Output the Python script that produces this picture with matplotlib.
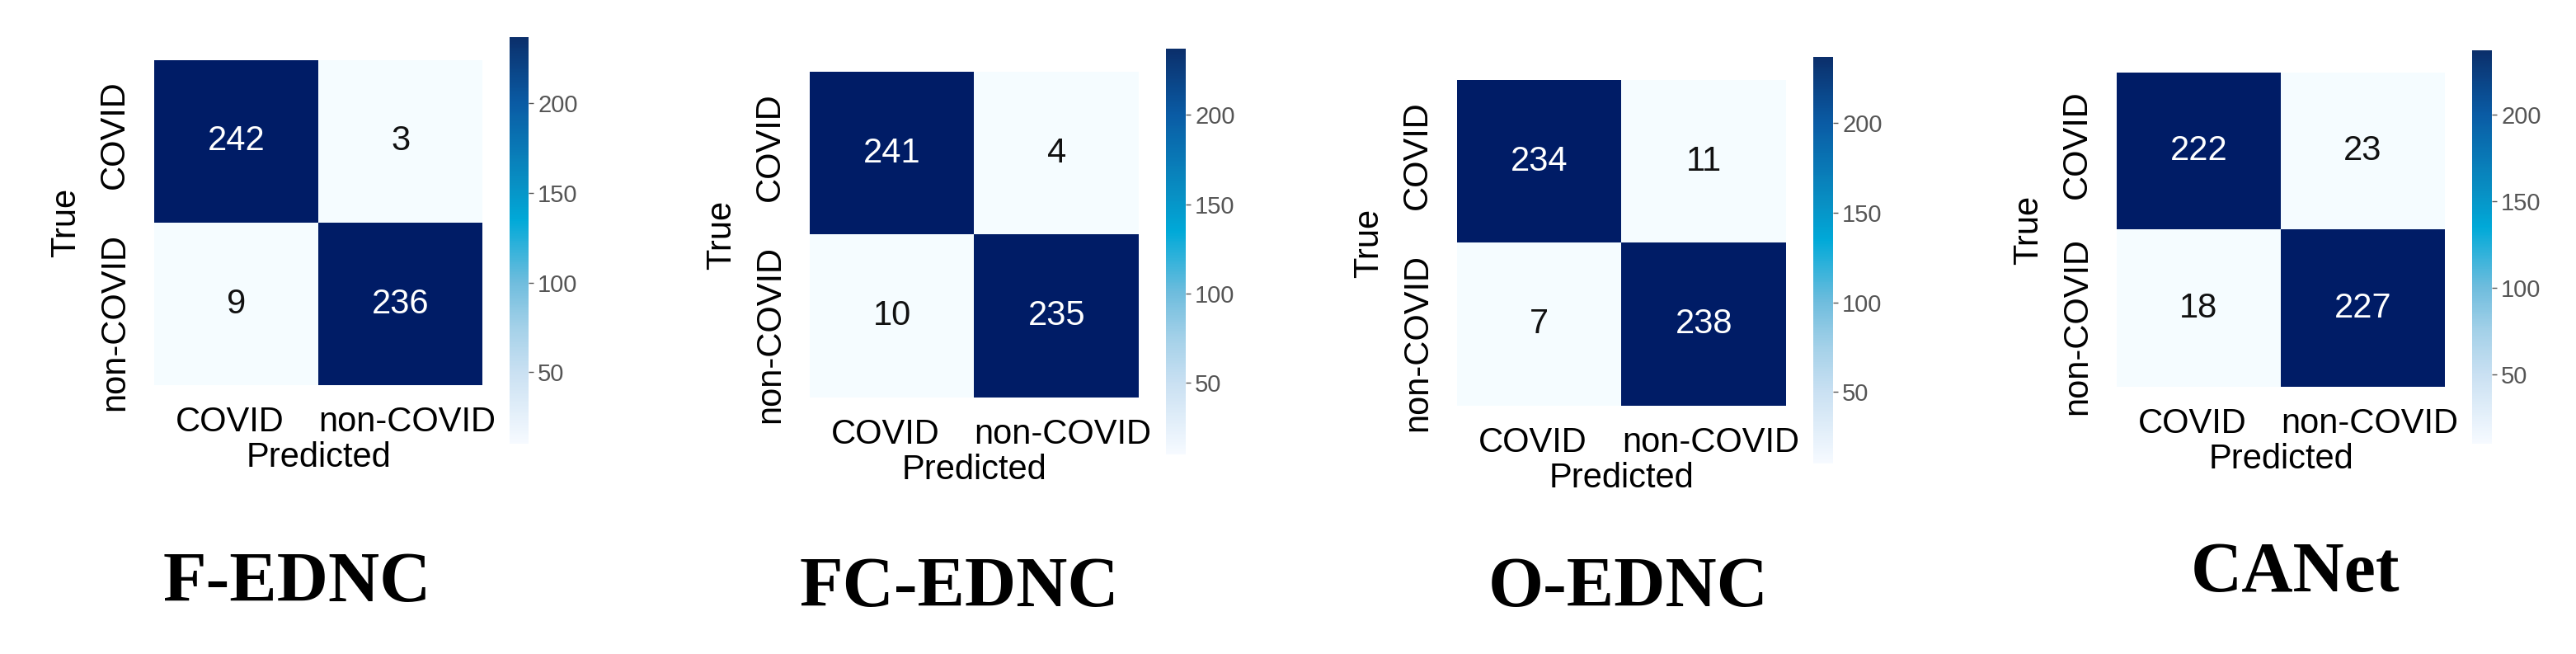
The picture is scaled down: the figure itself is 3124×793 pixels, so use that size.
import numpy as np
import matplotlib
matplotlib.use("Agg")
import matplotlib.pyplot as plt
import matplotlib.transforms as mtransforms
from matplotlib.colors import LinearSegmentedColormap, Normalize
from matplotlib.cm import ScalarMappable

# ---- data ----
models = ['F-EDNC', 'FC-EDNC', 'O-EDNC', 'CANet']
class_labels = ['COVID', 'non-COVID']
f_ednc = [[242, 3], [9, 236]]
fc_ednc = [[241, 4], [10, 235]]
o_ednc = [[234, 11], [7, 238]]
canet = [[222, 23], [18, 227]]
matrices = [f_ednc, fc_ednc, o_ednc, canet]
cbar_ticks = [50, 100, 150, 200]
cbar_min, cbar_max = 10, 237

# ---- layout (pixels in a 3124 x 793 canvas) ----
W, H = 3124, 793
# heatmap box: left, top, right, bottom
heat_boxes = [(187, 73, 585, 467), (982, 87, 1381, 482),
              (1767, 97, 2166, 492), (2567, 88, 2965, 469)]
# colorbar box: left, top, right, bottom
cbar_boxes = [(618, 45, 641, 538), (1414, 59, 1438, 551),
              (2199, 69, 2223, 562), (2998, 61, 3022, 538)]
title_pos = [(360, 708), (1163, 715), (1975, 715), (2784, 696)]
# the tick labels in the source sit a little apart from the cell centres (pixels)
xlabel_shift = [-8, 8]
ylabel_shift = [8, -22]

plt.rcParams['font.family'] = ['Liberation Sans', 'DejaVu Sans']

# cells in the figure are two-tone: near white for small counts, navy for big ones
cell_cmap = LinearSegmentedColormap.from_list('cells', [
    (0.0, '#f5fcff'), (0.2, '#f5fcff'), (0.8, '#001c66'), (1.0, '#001c66')])
bar_cmap = LinearSegmentedColormap.from_list('bar', [
    (0.0, '#f6faff'), (0.176, '#c9e0f2'), (0.29, '#a2d0e8'),
    (0.40, '#6dbcdd'), (0.55, '#00a9d8'), (0.64, '#0890c4'),
    (0.84, '#0a5ba4'), (1.0, '#0b2f6b')])


def to_rect(box):
    l, t, r, b = box
    return [l / W, 1 - b / H, (r - l) / W, (b - t) / H]


fig = plt.figure(figsize=(W / 100, H / 100), dpi=100)

for i, (name, mat) in enumerate(zip(models, matrices)):
    mat = np.array(mat)
    ax = fig.add_axes(to_rect(heat_boxes[i]))
    norm = Normalize(vmin=mat.min(), vmax=mat.max())
    ax.imshow(mat, cmap=cell_cmap, norm=norm, aspect='auto')
    for r in range(2):
        for c in range(2):
            v = mat[r, c]
            col = 'white' if norm(v) > 0.5 else '#111111'
            ax.text(c, r, str(v), ha='center', va='center', fontsize=30, color=col)
    ax.set_xticks([0, 1])
    ax.set_yticks([0, 1])
    ax.set_xticklabels(class_labels, fontsize=30)
    ax.set_yticklabels(class_labels, fontsize=30, rotation=90, va='center')
    ax.tick_params(length=0)
    ax.tick_params(axis='x', pad=18)
    ax.tick_params(axis='y', pad=20)
    for lbl, dx in zip(ax.get_xticklabels(), xlabel_shift):
        lbl.set_transform(lbl.get_transform() +
                          mtransforms.ScaledTranslation(dx / 100, 0, fig.dpi_scale_trans))
    for lbl, dy in zip(ax.get_yticklabels(), ylabel_shift):
        lbl.set_transform(lbl.get_transform() +
                          mtransforms.ScaledTranslation(0, dy / 100, fig.dpi_scale_trans))
    ax.set_xlabel('Predicted', fontsize=30, labelpad=2)
    ax.set_ylabel('True', fontsize=30, labelpad=14)
    for s in ax.spines.values():
        s.set_visible(False)

    cax = fig.add_axes(to_rect(cbar_boxes[i]))
    sm = ScalarMappable(norm=Normalize(cbar_min, cbar_max), cmap=bar_cmap)
    cb = fig.colorbar(sm, cax=cax)
    cb.outline.set_visible(False)
    cb.set_ticks(cbar_ticks)
    cax.tick_params(labelsize=21, colors='#555555', length=4, width=1, pad=4)

    tx, ty = title_pos[i]
    fig.text(tx / W, 1 - ty / H, name, ha='center', va='center',
             fontsize=62, fontweight='bold', family='Liberation Serif')

fig.savefig('out.png', dpi=100)
